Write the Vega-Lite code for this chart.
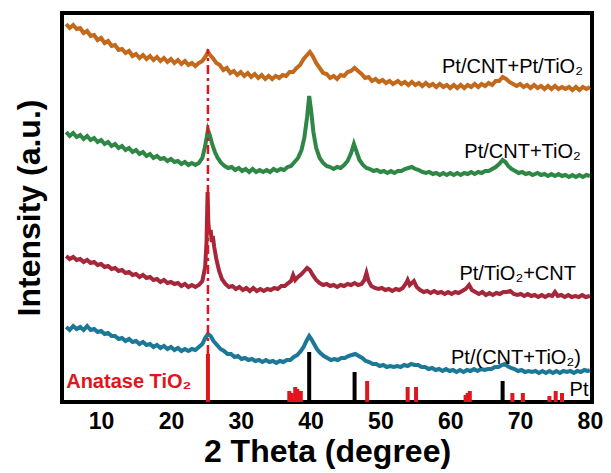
{
  "$schema": "https://vega.github.io/schema/vega-lite/v6.json",
  "width": 530,
  "height": 389,
  "autosize": {"type": "none"},
  "padding": {"left": 62, "top": 13, "right": 19, "bottom": 71},
  "background": "white",
  "config": {"view": {"stroke": "black", "strokeWidth": 4}, "font": "Liberation Sans"},
  "datasets": {
    "curves": [
      {"s":"o","t":5,"i":378},{"s":"o","t":5.5,"i":374},{"s":"o","t":6,"i":377},{"s":"o","t":6.5,"i":373},{"s":"o","t":7,"i":374},{"s":"o","t":7.5,"i":369},{"s":"o","t":8,"i":371},{"s":"o","t":8.5,"i":366},{"s":"o","t":9,"i":367},{"s":"o","t":9.5,"i":362},{"s":"o","t":10,"i":364},{"s":"o","t":10.5,"i":359},{"s":"o","t":11,"i":361},{"s":"o","t":11.5,"i":356},{"s":"o","t":12,"i":357},{"s":"o","t":12.5,"i":352},{"s":"o","t":13,"i":353},{"s":"o","t":13.5,"i":349},{"s":"o","t":14,"i":351},{"s":"o","t":14.5,"i":346},{"s":"o","t":15,"i":348},{"s":"o","t":15.5,"i":344},{"s":"o","t":16,"i":347},{"s":"o","t":16.5,"i":343},{"s":"o","t":17,"i":346},{"s":"o","t":17.5,"i":342},{"s":"o","t":18,"i":345},{"s":"o","t":18.5,"i":341},{"s":"o","t":19,"i":344},{"s":"o","t":19.5,"i":340},{"s":"o","t":20,"i":343},{"s":"o","t":20.5,"i":339},{"s":"o","t":21,"i":342},{"s":"o","t":21.5,"i":338},{"s":"o","t":22,"i":341},{"s":"o","t":22.5,"i":337},{"s":"o","t":23,"i":339},{"s":"o","t":23.5,"i":336},{"s":"o","t":24,"i":339},{"s":"o","t":24.5,"i":341},{"s":"o","t":25,"i":346},{"s":"o","t":25.3,"i":350},{"s":"o","t":25.6,"i":347},{"s":"o","t":26,"i":344},{"s":"o","t":26.5,"i":339},{"s":"o","t":27,"i":337},{"s":"o","t":27.5,"i":332},{"s":"o","t":28,"i":334},{"s":"o","t":28.5,"i":329},{"s":"o","t":29,"i":331},{"s":"o","t":29.5,"i":327},{"s":"o","t":30,"i":330},{"s":"o","t":30.5,"i":326},{"s":"o","t":31,"i":329},{"s":"o","t":31.5,"i":325},{"s":"o","t":32,"i":328},{"s":"o","t":32.5,"i":324},{"s":"o","t":33,"i":327},{"s":"o","t":33.5,"i":323},{"s":"o","t":34,"i":326},{"s":"o","t":34.5,"i":323},{"s":"o","t":35,"i":326},{"s":"o","t":35.5,"i":324},{"s":"o","t":36,"i":327},{"s":"o","t":36.5,"i":326},{"s":"o","t":37,"i":330},{"s":"o","t":37.5,"i":330},{"s":"o","t":38,"i":334},{"s":"o","t":38.5,"i":337},{"s":"o","t":39,"i":343},{"s":"o","t":39.5,"i":347},{"s":"o","t":39.9,"i":350},{"s":"o","t":40.3,"i":346},{"s":"o","t":40.8,"i":339},{"s":"o","t":41.3,"i":334},{"s":"o","t":41.8,"i":329},{"s":"o","t":42.3,"i":328},{"s":"o","t":42.8,"i":324},{"s":"o","t":43.3,"i":326},{"s":"o","t":43.8,"i":323},{"s":"o","t":44.3,"i":327},{"s":"o","t":44.8,"i":326},{"s":"o","t":45.3,"i":330},{"s":"o","t":45.8,"i":331},{"s":"o","t":46.3,"i":334},{"s":"o","t":46.8,"i":331},{"s":"o","t":47.3,"i":328},{"s":"o","t":47.8,"i":324},{"s":"o","t":48.3,"i":325},{"s":"o","t":48.8,"i":321},{"s":"o","t":49.3,"i":323},{"s":"o","t":49.8,"i":320},{"s":"o","t":50.3,"i":322},{"s":"o","t":50.8,"i":319},{"s":"o","t":51.3,"i":321},{"s":"o","t":51.8,"i":318},{"s":"o","t":52.5,"i":321},{"s":"o","t":53,"i":318},{"s":"o","t":53.5,"i":320},{"s":"o","t":54,"i":317},{"s":"o","t":54.5,"i":320},{"s":"o","t":55,"i":317},{"s":"o","t":55.5,"i":319},{"s":"o","t":56,"i":316},{"s":"o","t":56.5,"i":319},{"s":"o","t":57,"i":316},{"s":"o","t":57.5,"i":318},{"s":"o","t":58,"i":315},{"s":"o","t":58.5,"i":318},{"s":"o","t":59,"i":315},{"s":"o","t":59.5,"i":317},{"s":"o","t":60,"i":314},{"s":"o","t":60.5,"i":317},{"s":"o","t":61,"i":314},{"s":"o","t":61.5,"i":317},{"s":"o","t":62,"i":314},{"s":"o","t":62.5,"i":317},{"s":"o","t":63,"i":315},{"s":"o","t":63.5,"i":318},{"s":"o","t":64,"i":315},{"s":"o","t":64.5,"i":318},{"s":"o","t":65,"i":316},{"s":"o","t":65.5,"i":319},{"s":"o","t":66,"i":317},{"s":"o","t":66.5,"i":321},{"s":"o","t":67,"i":321},{"s":"o","t":67.5,"i":325},{"s":"o","t":68,"i":323},{"s":"o","t":68.5,"i":320},{"s":"o","t":69,"i":318},{"s":"o","t":69.5,"i":316},{"s":"o","t":70,"i":318},{"s":"o","t":70.5,"i":315},{"s":"o","t":71,"i":317},{"s":"o","t":71.5,"i":314},{"s":"o","t":72,"i":317},{"s":"o","t":72.5,"i":314},{"s":"o","t":73,"i":316},{"s":"o","t":73.5,"i":313},{"s":"o","t":74,"i":316},{"s":"o","t":74.5,"i":313},{"s":"o","t":75,"i":316},{"s":"o","t":75.5,"i":313},{"s":"o","t":76,"i":315},{"s":"o","t":76.5,"i":313},{"s":"o","t":77,"i":315},{"s":"o","t":77.5,"i":312},{"s":"o","t":78,"i":315},{"s":"o","t":78.5,"i":312},{"s":"o","t":79,"i":315},{"s":"o","t":79.5,"i":313},{"s":"o","t":80,"i":315},

      {"s":"g","t":5,"i":270},{"s":"g","t":5.5,"i":266},{"s":"g","t":6,"i":269},{"s":"g","t":6.5,"i":265},{"s":"g","t":7,"i":267},{"s":"g","t":7.5,"i":263},{"s":"g","t":8,"i":266},{"s":"g","t":8.5,"i":262},{"s":"g","t":9,"i":264},{"s":"g","t":9.5,"i":260},{"s":"g","t":10,"i":262},{"s":"g","t":10.5,"i":258},{"s":"g","t":11,"i":260},{"s":"g","t":11.5,"i":256},{"s":"g","t":12,"i":258},{"s":"g","t":12.5,"i":254},{"s":"g","t":13,"i":256},{"s":"g","t":13.5,"i":252},{"s":"g","t":14,"i":254},{"s":"g","t":14.5,"i":250},{"s":"g","t":15,"i":252},{"s":"g","t":15.5,"i":248},{"s":"g","t":16,"i":250},{"s":"g","t":16.5,"i":246},{"s":"g","t":17,"i":248},{"s":"g","t":17.5,"i":244},{"s":"g","t":18,"i":246},{"s":"g","t":18.5,"i":243},{"s":"g","t":19,"i":244},{"s":"g","t":19.5,"i":241},{"s":"g","t":20,"i":243},{"s":"g","t":20.5,"i":240},{"s":"g","t":21,"i":241},{"s":"g","t":21.5,"i":238},{"s":"g","t":22,"i":240},{"s":"g","t":22.5,"i":237},{"s":"g","t":23,"i":239},{"s":"g","t":23.5,"i":237},{"s":"g","t":24,"i":239},{"s":"g","t":24.5,"i":244},{"s":"g","t":24.9,"i":256},{"s":"g","t":25.3,"i":272},{"s":"g","t":25.6,"i":266},{"s":"g","t":25.9,"i":258},{"s":"g","t":26.3,"i":250},{"s":"g","t":26.7,"i":244},{"s":"g","t":27.2,"i":239},{"s":"g","t":27.7,"i":236},{"s":"g","t":28.2,"i":234},{"s":"g","t":28.7,"i":235},{"s":"g","t":29.2,"i":232},{"s":"g","t":29.7,"i":234},{"s":"g","t":30.2,"i":231},{"s":"g","t":30.7,"i":233},{"s":"g","t":31.2,"i":230},{"s":"g","t":31.7,"i":233},{"s":"g","t":32.2,"i":230},{"s":"g","t":32.7,"i":232},{"s":"g","t":33.2,"i":230},{"s":"g","t":33.7,"i":232},{"s":"g","t":34.2,"i":230},{"s":"g","t":34.7,"i":233},{"s":"g","t":35.2,"i":231},{"s":"g","t":35.7,"i":233},{"s":"g","t":36.2,"i":232},{"s":"g","t":36.7,"i":235},{"s":"g","t":37.2,"i":236},{"s":"g","t":37.7,"i":240},{"s":"g","t":38.2,"i":244},{"s":"g","t":38.7,"i":252},{"s":"g","t":39.1,"i":264},{"s":"g","t":39.5,"i":285},{"s":"g","t":39.8,"i":306},{"s":"g","t":40.1,"i":290},{"s":"g","t":40.4,"i":270},{"s":"g","t":40.8,"i":254},{"s":"g","t":41.3,"i":244},{"s":"g","t":41.8,"i":239},{"s":"g","t":42.3,"i":236},{"s":"g","t":42.8,"i":235},{"s":"g","t":43.3,"i":233},{"s":"g","t":43.8,"i":235},{"s":"g","t":44.3,"i":234},{"s":"g","t":44.8,"i":237},{"s":"g","t":45.3,"i":241},{"s":"g","t":45.8,"i":249},{"s":"g","t":46.2,"i":258},{"s":"g","t":46.6,"i":250},{"s":"g","t":47,"i":242},{"s":"g","t":47.5,"i":237},{"s":"g","t":48,"i":234},{"s":"g","t":48.5,"i":233},{"s":"g","t":49,"i":231},{"s":"g","t":49.5,"i":232},{"s":"g","t":50,"i":230},{"s":"g","t":50.5,"i":231},{"s":"g","t":51,"i":229},{"s":"g","t":51.5,"i":231},{"s":"g","t":52,"i":229},{"s":"g","t":52.5,"i":231},{"s":"g","t":53,"i":231},{"s":"g","t":53.5,"i":233},{"s":"g","t":54,"i":234},{"s":"g","t":54.5,"i":235},{"s":"g","t":55,"i":233},{"s":"g","t":55.5,"i":232},{"s":"g","t":56,"i":230},{"s":"g","t":56.5,"i":229},{"s":"g","t":57,"i":230},{"s":"g","t":57.5,"i":228},{"s":"g","t":58,"i":229},{"s":"g","t":58.5,"i":227},{"s":"g","t":59,"i":229},{"s":"g","t":59.5,"i":227},{"s":"g","t":60,"i":229},{"s":"g","t":60.5,"i":227},{"s":"g","t":61,"i":229},{"s":"g","t":61.5,"i":227},{"s":"g","t":62,"i":229},{"s":"g","t":62.5,"i":228},{"s":"g","t":63,"i":230},{"s":"g","t":63.5,"i":228},{"s":"g","t":64,"i":230},{"s":"g","t":64.5,"i":229},{"s":"g","t":65,"i":231},{"s":"g","t":65.5,"i":231},{"s":"g","t":66,"i":233},{"s":"g","t":66.5,"i":235},{"s":"g","t":67,"i":238},{"s":"g","t":67.5,"i":242},{"s":"g","t":67.9,"i":240},{"s":"g","t":68.3,"i":236},{"s":"g","t":68.8,"i":233},{"s":"g","t":69.3,"i":231},{"s":"g","t":69.8,"i":229},{"s":"g","t":70.3,"i":230},{"s":"g","t":70.8,"i":228},{"s":"g","t":71.3,"i":229},{"s":"g","t":71.8,"i":227},{"s":"g","t":72.5,"i":229},{"s":"g","t":73,"i":227},{"s":"g","t":73.5,"i":228},{"s":"g","t":74,"i":226},{"s":"g","t":74.5,"i":228},{"s":"g","t":75,"i":226},{"s":"g","t":75.5,"i":228},{"s":"g","t":76,"i":226},{"s":"g","t":76.5,"i":227},{"s":"g","t":77,"i":225},{"s":"g","t":77.5,"i":227},{"s":"g","t":78,"i":225},{"s":"g","t":78.5,"i":227},{"s":"g","t":79,"i":225},{"s":"g","t":79.5,"i":227},{"s":"g","t":80,"i":226},

      {"s":"r","t":5,"i":146},{"s":"r","t":5.5,"i":143},{"s":"r","t":6,"i":145},{"s":"r","t":6.5,"i":142},{"s":"r","t":7,"i":143},{"s":"r","t":7.5,"i":140},{"s":"r","t":8,"i":142},{"s":"r","t":8.5,"i":139},{"s":"r","t":9,"i":140},{"s":"r","t":9.5,"i":137},{"s":"r","t":10,"i":138},{"s":"r","t":10.5,"i":135},{"s":"r","t":11,"i":136},{"s":"r","t":11.5,"i":133},{"s":"r","t":12,"i":134},{"s":"r","t":12.5,"i":131},{"s":"r","t":13,"i":132},{"s":"r","t":13.5,"i":129},{"s":"r","t":14,"i":130},{"s":"r","t":14.5,"i":127},{"s":"r","t":15,"i":128},{"s":"r","t":15.5,"i":125},{"s":"r","t":16,"i":127},{"s":"r","t":16.5,"i":124},{"s":"r","t":17,"i":125},{"s":"r","t":17.5,"i":122},{"s":"r","t":18,"i":123},{"s":"r","t":18.5,"i":120},{"s":"r","t":19,"i":122},{"s":"r","t":19.5,"i":119},{"s":"r","t":20,"i":120},{"s":"r","t":20.5,"i":118},{"s":"r","t":21,"i":119},{"s":"r","t":21.5,"i":116},{"s":"r","t":22,"i":118},{"s":"r","t":22.5,"i":115},{"s":"r","t":23,"i":117},{"s":"r","t":23.5,"i":115},{"s":"r","t":24,"i":117},{"s":"r","t":24.5,"i":121},{"s":"r","t":24.9,"i":135},{"s":"r","t":25.1,"i":160},{"s":"r","t":25.25,"i":210},{"s":"r","t":25.35,"i":180},{"s":"r","t":25.5,"i":168},{"s":"r","t":25.7,"i":172},{"s":"r","t":25.85,"i":160},{"s":"r","t":26.0,"i":166},{"s":"r","t":26.2,"i":155},{"s":"r","t":26.5,"i":143},{"s":"r","t":26.9,"i":131},{"s":"r","t":27.3,"i":123},{"s":"r","t":27.8,"i":118},{"s":"r","t":28.3,"i":115},{"s":"r","t":28.8,"i":116},{"s":"r","t":29.3,"i":113},{"s":"r","t":29.8,"i":115},{"s":"r","t":30.3,"i":112},{"s":"r","t":30.8,"i":114},{"s":"r","t":31.3,"i":111},{"s":"r","t":31.8,"i":114},{"s":"r","t":32.3,"i":111},{"s":"r","t":32.8,"i":113},{"s":"r","t":33.3,"i":111},{"s":"r","t":33.8,"i":113},{"s":"r","t":34.3,"i":112},{"s":"r","t":34.8,"i":114},{"s":"r","t":35.3,"i":113},{"s":"r","t":35.8,"i":116},{"s":"r","t":36.3,"i":116},{"s":"r","t":36.8,"i":119},{"s":"r","t":37.2,"i":121},{"s":"r","t":37.5,"i":127},{"s":"r","t":37.8,"i":122},{"s":"r","t":38.2,"i":125},{"s":"r","t":38.7,"i":128},{"s":"r","t":39.1,"i":131},{"s":"r","t":39.5,"i":134},{"s":"r","t":39.9,"i":132},{"s":"r","t":40.3,"i":127},{"s":"r","t":40.8,"i":122},{"s":"r","t":41.3,"i":119},{"s":"r","t":41.8,"i":117},{"s":"r","t":42.3,"i":118},{"s":"r","t":42.8,"i":116},{"s":"r","t":43.3,"i":117},{"s":"r","t":43.8,"i":115},{"s":"r","t":44.3,"i":117},{"s":"r","t":44.8,"i":116},{"s":"r","t":45.3,"i":118},{"s":"r","t":45.8,"i":117},{"s":"r","t":46.3,"i":119},{"s":"r","t":46.8,"i":117},{"s":"r","t":47.3,"i":118},{"s":"r","t":47.7,"i":122},{"s":"r","t":48.0,"i":129},{"s":"r","t":48.3,"i":121},{"s":"r","t":48.7,"i":116},{"s":"r","t":49.2,"i":114},{"s":"r","t":49.7,"i":113},{"s":"r","t":50.2,"i":114},{"s":"r","t":50.7,"i":112},{"s":"r","t":51.2,"i":113},{"s":"r","t":51.7,"i":111},{"s":"r","t":52.2,"i":113},{"s":"r","t":52.7,"i":112},{"s":"r","t":53.2,"i":114},{"s":"r","t":53.7,"i":119},{"s":"r","t":53.9,"i":122},{"s":"r","t":54.2,"i":117},{"s":"r","t":54.5,"i":119},{"s":"r","t":54.8,"i":121},{"s":"r","t":55.2,"i":115},{"s":"r","t":55.7,"i":112},{"s":"r","t":56.2,"i":110},{"s":"r","t":56.7,"i":111},{"s":"r","t":57.2,"i":109},{"s":"r","t":57.7,"i":111},{"s":"r","t":58.2,"i":109},{"s":"r","t":58.7,"i":110},{"s":"r","t":59.2,"i":108},{"s":"r","t":59.7,"i":110},{"s":"r","t":60.2,"i":108},{"s":"r","t":60.7,"i":110},{"s":"r","t":61.2,"i":109},{"s":"r","t":61.7,"i":111},{"s":"r","t":62.2,"i":113},{"s":"r","t":62.7,"i":117},{"s":"r","t":63.1,"i":112},{"s":"r","t":63.6,"i":110},{"s":"r","t":64.1,"i":108},{"s":"r","t":64.6,"i":110},{"s":"r","t":65.1,"i":107},{"s":"r","t":65.6,"i":109},{"s":"r","t":66.1,"i":107},{"s":"r","t":66.6,"i":109},{"s":"r","t":67.1,"i":108},{"s":"r","t":67.6,"i":110},{"s":"r","t":68.1,"i":110},{"s":"r","t":68.6,"i":111},{"s":"r","t":69.1,"i":108},{"s":"r","t":69.6,"i":107},{"s":"r","t":70.1,"i":108},{"s":"r","t":70.6,"i":106},{"s":"r","t":71.1,"i":108},{"s":"r","t":71.6,"i":106},{"s":"r","t":72.1,"i":107},{"s":"r","t":72.6,"i":105},{"s":"r","t":73.1,"i":107},{"s":"r","t":73.6,"i":105},{"s":"r","t":74.1,"i":107},{"s":"r","t":74.6,"i":106},{"s":"r","t":75.0,"i":110},{"s":"r","t":75.4,"i":106},{"s":"r","t":75.9,"i":107},{"s":"r","t":76.4,"i":105},{"s":"r","t":76.9,"i":107},{"s":"r","t":77.4,"i":105},{"s":"r","t":77.9,"i":106},{"s":"r","t":78.4,"i":105},{"s":"r","t":78.9,"i":107},{"s":"r","t":79.4,"i":105},{"s":"r","t":80,"i":106},

      {"s":"b","t":5,"i":75},{"s":"b","t":5.5,"i":72},{"s":"b","t":6,"i":76},{"s":"b","t":6.5,"i":73},{"s":"b","t":7,"i":75},{"s":"b","t":7.5,"i":72},{"s":"b","t":8,"i":76},{"s":"b","t":8.5,"i":72},{"s":"b","t":9,"i":73},{"s":"b","t":9.5,"i":70},{"s":"b","t":10,"i":71},{"s":"b","t":10.5,"i":68},{"s":"b","t":11,"i":69},{"s":"b","t":11.5,"i":66},{"s":"b","t":12,"i":66},{"s":"b","t":12.5,"i":63},{"s":"b","t":13,"i":64},{"s":"b","t":13.5,"i":61},{"s":"b","t":14,"i":63},{"s":"b","t":14.5,"i":60},{"s":"b","t":15,"i":61},{"s":"b","t":15.5,"i":58},{"s":"b","t":16,"i":60},{"s":"b","t":16.5,"i":57},{"s":"b","t":17,"i":58},{"s":"b","t":17.5,"i":55},{"s":"b","t":18,"i":57},{"s":"b","t":18.5,"i":54},{"s":"b","t":19,"i":56},{"s":"b","t":19.5,"i":53},{"s":"b","t":20,"i":55},{"s":"b","t":20.5,"i":52},{"s":"b","t":21,"i":54},{"s":"b","t":21.5,"i":51},{"s":"b","t":22,"i":53},{"s":"b","t":22.5,"i":51},{"s":"b","t":23,"i":53},{"s":"b","t":23.5,"i":52},{"s":"b","t":24,"i":55},{"s":"b","t":24.5,"i":58},{"s":"b","t":24.9,"i":64},{"s":"b","t":25.3,"i":68},{"s":"b","t":25.7,"i":66},{"s":"b","t":26.1,"i":61},{"s":"b","t":26.6,"i":57},{"s":"b","t":27.1,"i":53},{"s":"b","t":27.6,"i":51},{"s":"b","t":28.1,"i":48},{"s":"b","t":28.6,"i":48},{"s":"b","t":29.1,"i":45},{"s":"b","t":29.6,"i":46},{"s":"b","t":30.1,"i":43},{"s":"b","t":30.6,"i":44},{"s":"b","t":31.1,"i":42},{"s":"b","t":31.6,"i":43},{"s":"b","t":32.1,"i":41},{"s":"b","t":32.6,"i":42},{"s":"b","t":33.1,"i":40},{"s":"b","t":33.6,"i":42},{"s":"b","t":34.1,"i":40},{"s":"b","t":34.6,"i":41},{"s":"b","t":35.1,"i":39},{"s":"b","t":35.6,"i":41},{"s":"b","t":36.1,"i":40},{"s":"b","t":36.6,"i":42},{"s":"b","t":37.1,"i":42},{"s":"b","t":37.6,"i":45},{"s":"b","t":38.1,"i":47},{"s":"b","t":38.6,"i":51},{"s":"b","t":39.0,"i":55},{"s":"b","t":39.4,"i":61},{"s":"b","t":39.8,"i":66},{"s":"b","t":40.1,"i":63},{"s":"b","t":40.5,"i":58},{"s":"b","t":40.9,"i":53},{"s":"b","t":41.4,"i":49},{"s":"b","t":41.9,"i":46},{"s":"b","t":42.4,"i":44},{"s":"b","t":42.9,"i":42},{"s":"b","t":43.4,"i":43},{"s":"b","t":43.9,"i":42},{"s":"b","t":44.4,"i":44},{"s":"b","t":44.9,"i":44},{"s":"b","t":45.4,"i":46},{"s":"b","t":45.9,"i":47},{"s":"b","t":46.4,"i":48},{"s":"b","t":46.9,"i":46},{"s":"b","t":47.4,"i":44},{"s":"b","t":47.9,"i":41},{"s":"b","t":48.4,"i":40},{"s":"b","t":48.9,"i":38},{"s":"b","t":49.4,"i":38},{"s":"b","t":49.9,"i":36},{"s":"b","t":50.4,"i":37},{"s":"b","t":50.9,"i":35},{"s":"b","t":51.4,"i":36},{"s":"b","t":51.9,"i":35},{"s":"b","t":52.4,"i":36},{"s":"b","t":52.9,"i":35},{"s":"b","t":53.4,"i":37},{"s":"b","t":53.9,"i":36},{"s":"b","t":54.4,"i":38},{"s":"b","t":54.9,"i":37},{"s":"b","t":55.4,"i":37},{"s":"b","t":55.9,"i":35},{"s":"b","t":56.4,"i":35},{"s":"b","t":56.9,"i":33},{"s":"b","t":57.4,"i":34},{"s":"b","t":57.9,"i":32},{"s":"b","t":58.4,"i":33},{"s":"b","t":58.9,"i":31},{"s":"b","t":59.4,"i":33},{"s":"b","t":59.9,"i":31},{"s":"b","t":60.4,"i":32},{"s":"b","t":60.9,"i":30},{"s":"b","t":61.4,"i":32},{"s":"b","t":61.9,"i":30},{"s":"b","t":62.4,"i":32},{"s":"b","t":62.9,"i":31},{"s":"b","t":63.4,"i":33},{"s":"b","t":63.9,"i":31},{"s":"b","t":64.4,"i":33},{"s":"b","t":64.9,"i":32},{"s":"b","t":65.4,"i":33},{"s":"b","t":65.9,"i":33},{"s":"b","t":66.4,"i":35},{"s":"b","t":66.9,"i":35},{"s":"b","t":67.4,"i":37},{"s":"b","t":67.8,"i":38},{"s":"b","t":68.2,"i":36},{"s":"b","t":68.7,"i":34},{"s":"b","t":69.2,"i":33},{"s":"b","t":69.7,"i":31},{"s":"b","t":70.2,"i":32},{"s":"b","t":70.7,"i":30},{"s":"b","t":71.2,"i":31},{"s":"b","t":71.7,"i":30},{"s":"b","t":72.2,"i":31},{"s":"b","t":72.7,"i":29},{"s":"b","t":73.2,"i":31},{"s":"b","t":73.7,"i":29},{"s":"b","t":74.2,"i":31},{"s":"b","t":74.7,"i":29},{"s":"b","t":75.2,"i":31},{"s":"b","t":75.7,"i":29},{"s":"b","t":76.2,"i":31},{"s":"b","t":76.7,"i":30},{"s":"b","t":77.2,"i":31},{"s":"b","t":77.7,"i":29},{"s":"b","t":78.2,"i":31},{"s":"b","t":78.7,"i":30},{"s":"b","t":79.2,"i":32},{"s":"b","t":79.7,"i":31},{"s":"b","t":80,"i":32}
    ],
    "anatase": [
      {"t":25.3,"i":48},{"t":36.95,"i":11},{"t":37.3,"i":9},{"t":37.8,"i":15},{"t":38.1,"i":13},{"t":38.6,"i":11},{"t":48.1,"i":21},{"t":53.9,"i":15},{"t":55.1,"i":15},{"t":62.2,"i":7},{"t":62.5,"i":9},{"t":62.8,"i":11},{"t":68.9,"i":9},{"t":70.4,"i":9},{"t":74.2,"i":6},{"t":75.1,"i":11},{"t":76.0,"i":9}
    ],
    "pt": [
      {"t":39.8,"i":50},{"t":46.3,"i":30},{"t":67.5,"i":21}
    ],
    "labels": [
      {"t":79.0,"i":335,"txt":"Pt/CNT+Pt/TiO₂"},
      {"t":78.7,"i":250,"txt":"Pt/CNT+TiO₂"},
      {"t":78.0,"i":128,"txt":"Pt/TiO₂+CNT"},
      {"t":78.7,"i":44,"txt":"Pt/(CNT+TiO₂)"},
      {"t":79.8,"i":12,"txt":"Pt"}
    ]
  },
  "encoding": {
    "x": {
      "field": "t", "type": "quantitative",
      "scale": {"domain": [4.4, 80.3], "nice": false, "zero": false},
      "axis": {
        "title": "2 Theta (degree)", "values": [10, 20, 30, 40, 50, 60, 70, 80],
        "ticks": false, "domain": false, "grid": false,
        "labelFontSize": 23, "labelFontWeight": "bold", "labelColor": "black", "labelPadding": 8,
        "titleFontSize": 32, "titleFontWeight": "bold", "titleColor": "black", "titlePadding": 3
      }
    },
    "y": {
      "field": "i", "type": "quantitative",
      "scale": {"domain": [0, 389], "nice": false, "zero": false},
      "axis": {
        "title": "Intensity (a.u.)", "labels": false, "ticks": false, "domain": false, "grid": false,
        "titleFontSize": 32, "titleFontWeight": "bold", "titleColor": "black", "titlePadding": 16
      }
    }
  },
  "layer": [
    {
      "data": {"name": "anatase"},
      "mark": {"type": "rule", "color": "#e3141b", "strokeWidth": 4},
      "encoding": {"y2": {"datum": 0}}
    },
    {
      "data": {"name": "pt"},
      "mark": {"type": "rule", "color": "black", "strokeWidth": 4},
      "encoding": {"y2": {"datum": 0}}
    },
    {
      "data": {"name": "curves"},
      "mark": {"type": "line", "strokeWidth": 4},
      "encoding": {
        "color": {
          "field": "s", "type": "nominal", "legend": null,
          "scale": {"domain": ["o", "g", "r", "b"], "range": ["#c2691c", "#2e8744", "#a5273a", "#1b7896"]}
        }
      }
    },
    {
      "data": {"values": [{"t": 25.3, "i": 48, "i2": 353}]},
      "mark": {"type": "rule", "color": "#e3141b", "strokeWidth": 2.5, "strokeDash": [9, 4, 3, 4]},
      "encoding": {"y2": {"field": "i2"}}
    },
    {
      "data": {"name": "labels"},
      "mark": {"type": "text", "align": "right", "baseline": "middle", "fontSize": 20, "color": "black"},
      "encoding": {"text": {"field": "txt"}}
    },
    {
      "data": {"values": [{"t": 5.0, "i": 20, "txt": "Anatase TiO₂"}]},
      "mark": {"type": "text", "align": "left", "baseline": "middle", "fontSize": 20, "fontWeight": "bold", "color": "#e3141b"},
      "encoding": {"text": {"field": "txt"}}
    }
  ]
}
